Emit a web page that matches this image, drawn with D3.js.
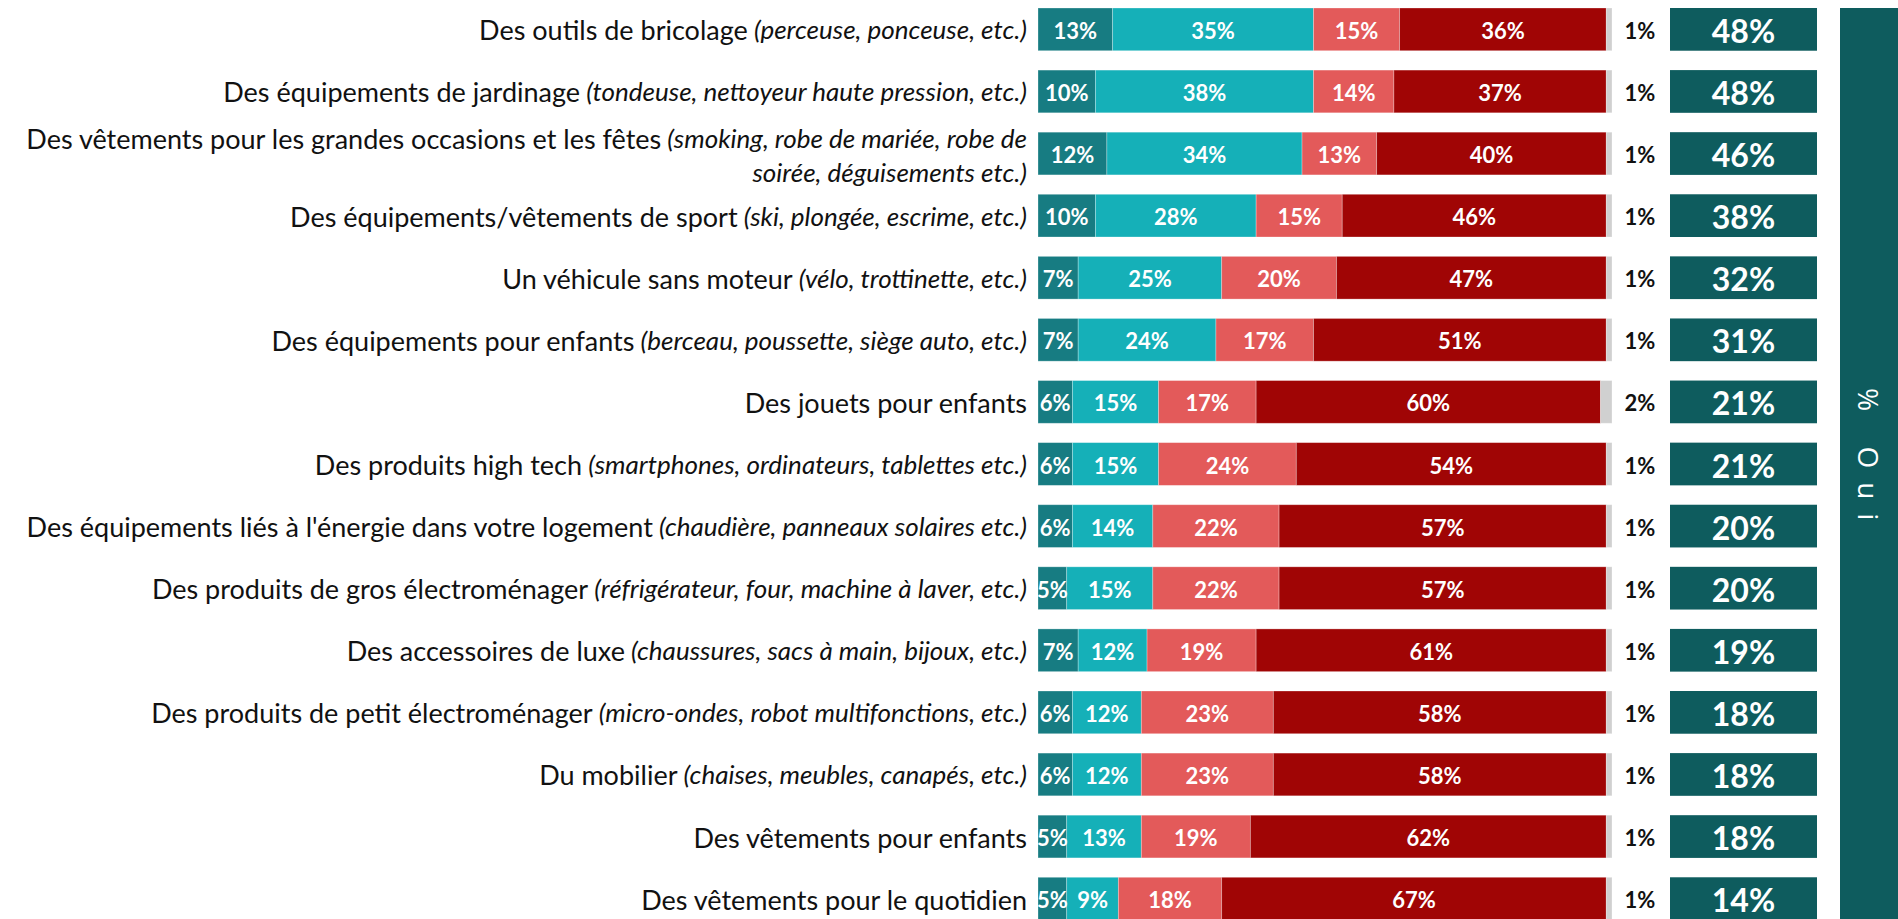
<!DOCTYPE html>
<html>
<head>
<meta charset="utf-8">
<script src="https://cdn.jsdelivr.net/npm/d3@7"></script>
<style>
  body { margin: 0; background: #fff; }
  text { font-family: Lato, 'Open Sans', sans-serif; }
</style>
</head>
<body>
<script>
// categories (main label + italic detail, '\n' = line break)
const categories = [
    'Des outils de bricolage',
    'Des équipements de jardinage',
    'Des vêtements pour les grandes occasions et les fêtes',
    'Des équipements/vêtements de sport',
    'Un véhicule sans moteur',
    'Des équipements pour enfants',
    'Des jouets pour enfants',
    'Des produits high tech',
    "Des équipements liés à l'énergie dans votre logement",
    'Des produits de gros électroménager',
    'Des accessoires de luxe',
    'Des produits de petit électroménager',
    'Du mobilier',
    'Des vêtements pour enfants',
    'Des vêtements pour le quotidien'
]
const details = [
    '(perceuse, ponceuse, etc.)',
    '(tondeuse, nettoyeur haute pression, etc.)',
    '(smoking, robe de mariée, robe de\nsoirée, déguisements etc.)',
    '(ski, plongée, escrime, etc.)',
    '(vélo, trottinette, etc.)',
    '(berceau, poussette, siège auto, etc.)',
    '',
    '(smartphones, ordinateurs, tablettes etc.)',
    '(chaudière, panneaux solaires etc.)',
    '(réfrigérateur, four, machine à laver, etc.)',
    '(chaussures, sacs à main, bijoux, etc.)',
    '(micro-ondes, robot multifonctions, etc.)',
    '(chaises, meubles, canapés, etc.)',
    '',
    ''
]

// series values (%)
const serie1 = [13, 10, 12, 10, 7, 7, 6, 6, 6, 5, 7, 6, 6, 5, 5]
const serie2 = [35, 38, 34, 28, 25, 24, 15, 15, 14, 15, 12, 12, 12, 13, 9]
const serie3 = [15, 14, 13, 15, 20, 17, 17, 24, 22, 22, 19, 23, 23, 19, 18]
const serie4 = [36, 37, 40, 46, 47, 51, 60, 54, 57, 57, 61, 58, 58, 62, 67]
const nsp = [1, 1, 1, 1, 1, 1, 2, 1, 1, 1, 1, 1, 1, 1, 1]
const oui = [48, 48, 46, 38, 32, 31, 21, 21, 20, 20, 19, 18, 18, 18, 14]

const keys = ['s1', 's2', 's3', 's4', 'nsp']
const colors = ['#177C82', '#15B0B8', '#E35A5A', '#A00505', '#D0D0D0']

const rows = categories.map((c, i) => ({
    cat: c, detail: details[i],
    s1: serie1[i], s2: serie2[i], s3: serie3[i], s4: serie4[i], nsp: nsp[i], oui: oui[i]
}))

const w = 1898
const h = 919

const svg = d3.select('body')
    .append('svg')
    .attr('width', w)
    .attr('height', h)

const x = d3.scaleLinear().domain([0, 100]).range([1038, 1612])
const y = d3.scaleBand()
    .domain(categories)
    .range([8, 920])
    .paddingInner(0.312)
    .paddingOuter(0)
const bh = y.bandwidth()

const color = d3.scaleOrdinal().domain(keys).range(colors)

const stacked = d3.stack().keys(keys)(rows)

// clip for labels that overflow the bar start
svg.append('clipPath')
    .attr('id', 'barclip')
    .append('rect')
    .attr('x', x(0)).attr('y', 0)
    .attr('width', x(100) - x(0)).attr('height', h)

// stacked bars
const layers = svg.append('g')
    .selectAll('g')
    .data(stacked)
    .enter()
    .append('g')
    .attr('fill', d => color(d.key))

layers.selectAll('rect')
    .data(d => d)
    .enter()
    .append('rect')
    .attr('x', d => x(d[0]))
    .attr('y', d => y(d.data.cat))
    .attr('width', d => x(d[1]) - x(d[0]))
    .attr('height', bh)
    .attr('stroke', '#fff')
    .attr('stroke-opacity', 0.35)
    .attr('stroke-width', 0.8)

// segment labels (not for nsp)
const lab = svg.append('g').attr('clip-path', 'url(#barclip)')
stacked.filter(s => s.key !== 'nsp').forEach(s => {
    lab.selectAll(null)
        .data(s)
        .enter()
        .append('text')
        .attr('x', d => (x(d[0]) + x(d[1])) / 2)
        .attr('y', d => y(d.data.cat) + bh / 2 + 1)
        .attr('text-anchor', 'middle')
        .attr('dominant-baseline', 'central')
        .style('font-size', '22px')
        .style('font-weight', 'bold')
        .attr('fill', '#fff')
        .text(d => d.data[s.key] + '%')
})

// nsp labels outside
svg.append('g')
    .selectAll('text')
    .data(rows)
    .enter()
    .append('text')
    .attr('x', 1640)
    .attr('y', d => y(d.cat) + bh / 2 + 1)
    .attr('text-anchor', 'middle')
    .attr('dominant-baseline', 'central')
    .style('font-size', '22px')
    .style('font-weight', 'bold')
    .attr('fill', '#111')
    .text(d => d.nsp + '%')

// total "oui" boxes
const boxes = svg.append('g')
boxes.selectAll('rect')
    .data(rows)
    .enter()
    .append('rect')
    .attr('x', 1670)
    .attr('y', d => y(d.cat))
    .attr('width', 147)
    .attr('height', bh)
    .attr('fill', '#0E5C5E')
boxes.selectAll('text')
    .data(rows)
    .enter()
    .append('text')
    .attr('x', 1670 + 147 / 2)
    .attr('y', d => y(d.cat) + bh / 2 + 1)
    .attr('text-anchor', 'middle')
    .attr('dominant-baseline', 'central')
    .style('font-size', '32px')
    .style('font-weight', 'bold')
    .attr('fill', '#fff')
    .text(d => d.oui + '%')

// vertical panel
svg.append('rect')
    .attr('x', 1840)
    .attr('y', 8)
    .attr('width', 60)
    .attr('height', h - 8)
    .attr('fill', '#0E5C5E')
svg.append('text')
    .attr('transform', 'translate(1858,388) rotate(90)')
    .style('font-family', "'Open Sans', sans-serif")
    .style('font-size', '28px')
    .style('letter-spacing', '14px')
    .attr('fill', '#fff')
    .text('% Oui')

// category labels
const labels = svg.append('g')
rows.forEach(d => {
    const lines = d.detail.split('\n')
    const cy = y(d.cat) + bh / 2
    const off = lines.length > 1 ? -16 : 0
    const t = labels.append('text')
        .attr('x', 1027)
        .attr('y', cy + off)
        .attr('text-anchor', 'end')
        .attr('dominant-baseline', 'central')
        .attr('fill', '#111')
    t.append('tspan').style('font-size', '27px').text(d.cat)
    if (lines[0]) {
        t.append('tspan').style('font-size', '26px').style('font-style', 'italic').text(' ' + lines[0])
    }
    if (lines.length > 1) {
        labels.append('text')
            .attr('x', 1027)
            .attr('y', cy + 18)
            .attr('text-anchor', 'end')
            .attr('dominant-baseline', 'central')
            .style('font-size', '26px')
            .style('font-style', 'italic')
            .attr('fill', '#111')
            .text(lines[1])
    }
})
</script>
</body>
</html>
